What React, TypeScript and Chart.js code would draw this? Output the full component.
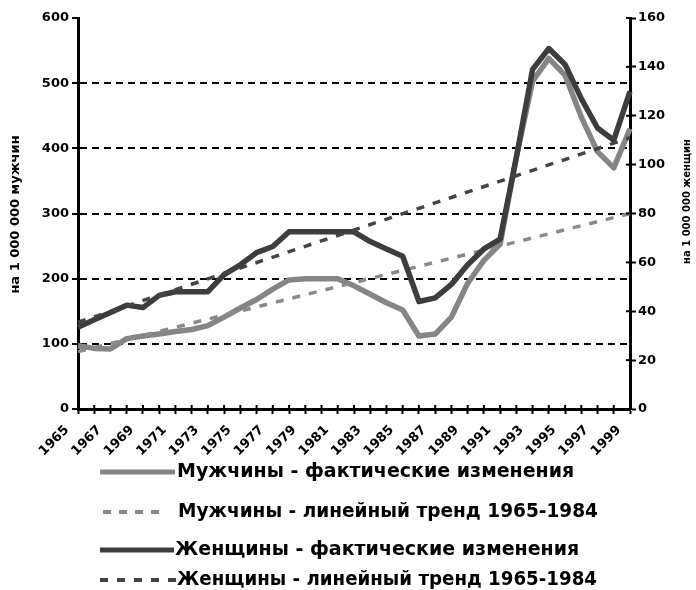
import React, { useEffect, useRef } from 'react';
import { Chart, registerables } from 'chart.js';

Chart.register(...registerables);

// ---- data ----
const years = [
  '1965', '1966', '1967', '1968', '1969', '1970', '1971', '1972', '1973', '1974',
  '1975', '1976', '1977', '1978', '1979', '1980', '1981', '1982', '1983', '1984',
  '1985', '1986', '1987', '1988', '1989', '1990', '1991', '1992', '1993', '1994',
  '1995', '1996', '1997', '1998', '1999',
];

// per 1 000 000 men (left axis)
const menActual = [
  97, 93, 92, 108, 112, 115, 119, 122, 128, 141,
  155, 168, 184, 198, 200, 200, 200, 189, 176, 163,
  152, 112, 115, 141, 193, 228, 253, 386, 503, 538,
  512, 448, 395, 370, 430,
];

// per 1 000 000 women (right axis)
const womenActual = [
  33.5, 36.5, 39.5, 42.5, 41.5, 46.5, 48, 48, 48, 55,
  59, 64, 66.5, 72.5, 72.5, 72.5, 72.5, 72.5, 68.5, 65.5,
  62.5, 44, 45.5, 51, 59, 65.5, 69.5, 103, 139, 147.5,
  141, 127, 115, 110, 130,
];

// linear trends 1965-1984, drawn as straight lines between end points
const trendYears = ['1965', '1999'];
const menTrend = [88, 300];
const womenTrend = [35.5, 111];

const leftAxis = { min: 0, max: 600, step: 100 };
const rightAxis = { min: 0, max: 160, step: 20 };

const leftTitle = 'на 1 000 000 мужчин';
const rightTitle = 'на 1 000 000 женщин';

const legendLabels = [
  'Мужчины - фактические изменения',
  'Мужчины - линейный тренд 1965-1984',
  'Женщины - фактические изменения',
  'Женщины - линейный тренд 1965-1984',
];

// ---- styles ----
const MEN_COLOR = '#858585';
const WOMEN_COLOR = '#3d3d3d';
const MEN_TREND_COLOR = '#8a8a8a';
const WOMEN_TREND_COLOR = '#444444';
const FONT = '"DejaVu Sans", "Liberation Sans", Arial, sans-serif';

const W = 696;
const H = 590;

const decorPlugin = {
  id: 'decor',
  afterDraw(chart: any) {
    const ctx: CanvasRenderingContext2D = chart.ctx;
    const area = chart.chartArea;
    const midY = (area.top + area.bottom) / 2;
    ctx.save();

    // inner halves of tick marks (ticks cross the axis on x and right axes)
    ctx.strokeStyle = '#000';
    ctx.lineWidth = 2;
    const xs = chart.scales.x;
    xs.ticks.forEach((_t: any, i: number) => {
      const px = xs.getPixelForTick(i);
      ctx.beginPath();
      ctx.moveTo(px, area.bottom);
      ctx.lineTo(px, area.bottom - 4);
      ctx.stroke();
    });
    const yr = chart.scales.yR;
    yr.ticks.forEach((_t: any, i: number) => {
      const py = yr.getPixelForTick(i);
      ctx.beginPath();
      ctx.moveTo(area.right, py);
      ctx.lineTo(area.right - 4, py);
      ctx.stroke();
    });

    ctx.fillStyle = '#000';

    // x tick labels, every other year, rotated 45°
    ctx.save();
    ctx.font = `bold 13px ${FONT}`;
    ctx.textAlign = 'right';
    ctx.textBaseline = 'middle';
    xs.ticks.forEach((_t: any, i: number) => {
      if (i % 2 !== 0) return;
      const px = xs.getPixelForTick(i);
      ctx.save();
      ctx.translate(px - 11, area.bottom + 19);
      ctx.rotate(-Math.PI / 4);
      ctx.fillText(years[i], 0, 0);
      ctx.restore();
    });
    ctx.restore();

    ctx.textAlign = 'center';
    ctx.textBaseline = 'middle';

    // left axis title
    ctx.save();
    ctx.font = `bold 13px ${FONT}`;
    ctx.translate(16, midY + 1);
    ctx.rotate(-Math.PI / 2);
    ctx.fillText(leftTitle, 0, 0);
    ctx.restore();

    // right axis title
    ctx.save();
    ctx.font = `bold 10px ${FONT}`;
    ctx.translate(687, midY - 12);
    ctx.rotate(-Math.PI / 2);
    ctx.fillText(rightTitle, 0, 0);
    ctx.restore();

    // legend
    const rows = [
      { color: MEN_COLOR, width: 5, dash: [] as number[], x0: 100, x1: 175, tx: 177, y: 472 },
      { color: MEN_TREND_COLOR, width: 4, dash: [8, 8], x0: 103, x1: 160, tx: 178, y: 512 },
      { color: WOMEN_COLOR, width: 5, dash: [] as number[], x0: 100, x1: 174, tx: 175, y: 550 },
      { color: WOMEN_TREND_COLOR, width: 4, dash: [8, 9], x0: 100, x1: 176, tx: 177, y: 580 },
    ];
    rows.forEach((r, i) => {
      ctx.save();
      ctx.strokeStyle = r.color;
      ctx.lineWidth = r.width;
      ctx.setLineDash(r.dash);
      ctx.lineCap = 'butt';
      ctx.beginPath();
      ctx.moveTo(r.x0, r.y);
      ctx.lineTo(r.x1, r.y);
      ctx.stroke();
      ctx.restore();
      ctx.save();
      ctx.font = `bold 19px ${FONT}`;
      ctx.textAlign = 'left';
      ctx.textBaseline = 'middle';
      ctx.fillStyle = '#000';
      ctx.fillText(legendLabels[i], r.tx, r.y, 420);
      ctx.restore();
    });
    ctx.restore();
  },
};

export default function App() {
  const canvasRef = useRef<HTMLCanvasElement | null>(null);

  useEffect(() => {
    const canvas = canvasRef.current;
    if (!canvas) return;

    const chart = new Chart(canvas, {
      type: 'line',
      data: {
        labels: years,
        datasets: [
          {
            label: legendLabels[3],
            data: trendYears.map((y, i) => ({ x: y, y: womenTrend[i] })),
            yAxisID: 'yR',
            borderColor: WOMEN_TREND_COLOR,
            borderWidth: 3.5,
            borderDash: [8, 9],
            pointRadius: 0,
            order: 0,
          },
          {
            label: legendLabels[2],
            data: womenActual,
            yAxisID: 'yR',
            borderColor: WOMEN_COLOR,
            borderWidth: 5.5,
            borderJoinStyle: 'round',
            pointRadius: 0,
            order: 1,
          },
          {
            label: legendLabels[1],
            data: trendYears.map((y, i) => ({ x: y, y: menTrend[i] })),
            yAxisID: 'yL',
            borderColor: MEN_TREND_COLOR,
            borderWidth: 3.5,
            borderDash: [8, 9],
            pointRadius: 0,
            order: 2,
          },
          {
            label: legendLabels[0],
            data: menActual,
            yAxisID: 'yL',
            borderColor: MEN_COLOR,
            borderWidth: 5.5,
            borderJoinStyle: 'round',
            pointRadius: 0,
            order: 3,
          },
        ] as any,
      },
      options: {
        responsive: false,
        animation: false,
        events: [],
        layout: { padding: { top: 18, bottom: 131, left: 0, right: 0 } },
        plugins: {
          legend: { display: false },
          tooltip: { enabled: false },
          title: { display: false },
        },
        elements: { line: { tension: 0 } },
        scales: {
          x: {
            type: 'category',
            offset: false,
            grid: {
              drawOnChartArea: false,
              drawTicks: true,
              tickLength: 5,
              tickColor: '#000',
              tickWidth: 2,
            },
            border: { display: true, color: '#000', width: 3 },
            ticks: {
              display: false,
              autoSkip: false,
            },
            afterFit: (s: any) => {
              s.height = 50;
            },
          },
          yL: {
            type: 'linear',
            position: 'left',
            min: leftAxis.min,
            max: leftAxis.max,
            ticks: {
              stepSize: leftAxis.step,
              padding: 3,
              color: '#000',
              font: { family: FONT, size: 13, weight: 'bold' },
            },
            grid: {
              drawOnChartArea: true,
              color: (c: any) =>
                c.tick && (c.tick.value === leftAxis.min || c.tick.value === leftAxis.max)
                  ? 'rgba(0,0,0,0)'
                  : '#000',
              lineWidth: 2,
              tickColor: '#000',
              tickLength: 6,
              tickWidth: 2,
            },
            border: { display: true, color: '#000', width: 3, dash: [7, 5] },
            afterFit: (s: any) => {
              s.width = 78;
            },
          },
          yR: {
            type: 'linear',
            position: 'right',
            min: rightAxis.min,
            max: rightAxis.max,
            ticks: {
              stepSize: rightAxis.step,
              padding: 2,
              color: '#000',
              font: { family: FONT, size: 13, weight: 'bold' },
            },
            grid: {
              drawOnChartArea: false,
              tickColor: '#000',
              tickLength: 6,
              tickWidth: 2,
            },
            border: { display: true, color: '#000', width: 3 },
            afterFit: (s: any) => {
              s.width = 66;
            },
          },
        },
      } as any,
      plugins: [decorPlugin],
    });

    return () => {
      chart.destroy();
    };
  }, []);

  return (
    <div style={{ position: 'absolute', left: 0, top: 0, width: W, height: H, background: '#fff' }}>
      <canvas ref={canvasRef} width={W} height={H} style={{ display: 'block', width: W, height: H }} />
    </div>
  );
}
